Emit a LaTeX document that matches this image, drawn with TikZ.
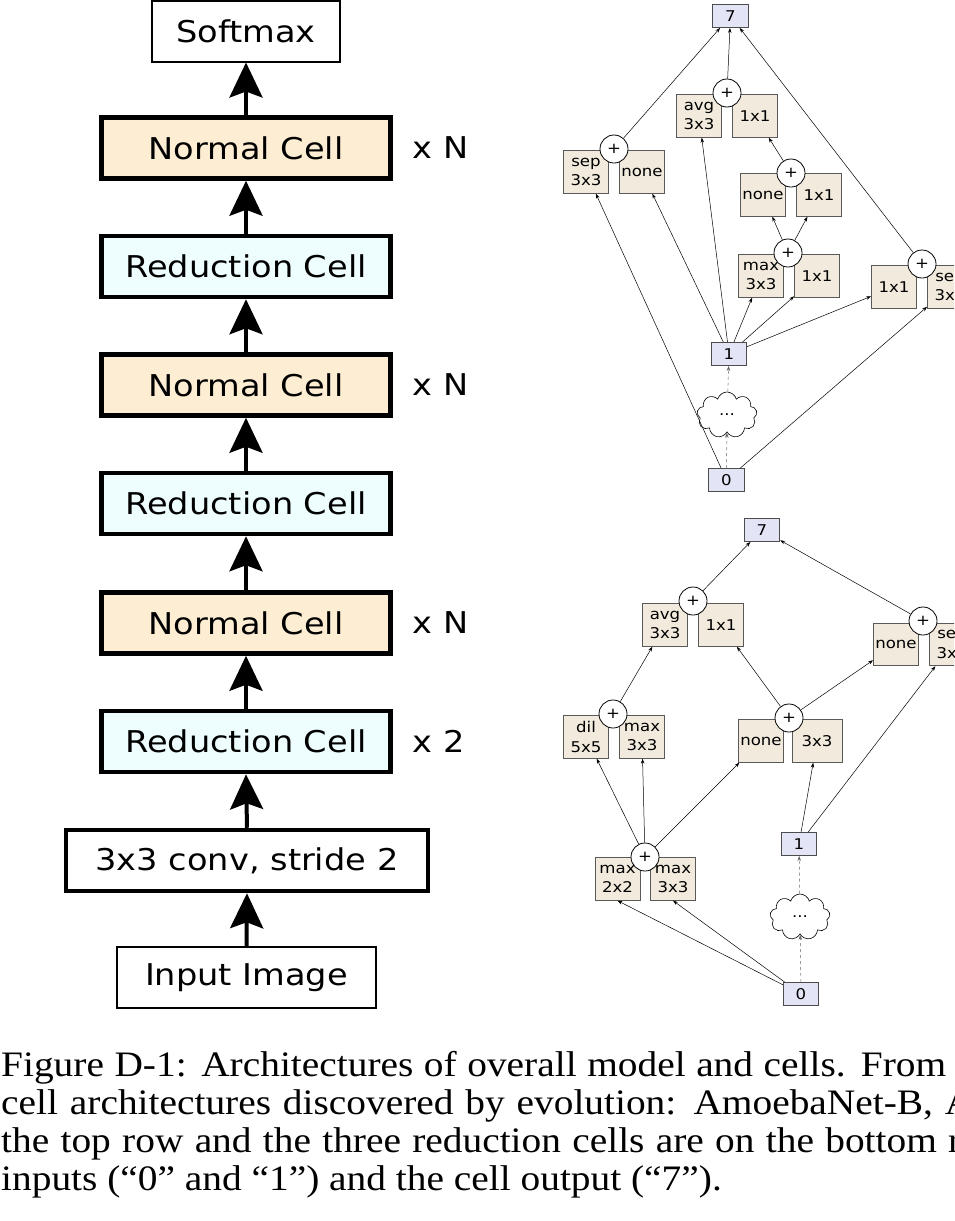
\documentclass[tikz,border=0pt]{standalone}
\usepackage{fontspec}
\setsansfont{DejaVu Sans}[FakeStretch=1.12]
\setmainfont{Liberation Serif}[FakeStretch=1.1]
\usetikzlibrary{arrows.meta,shapes.symbols}

\definecolor{normalfill}{HTML}{FDEDD3}
\definecolor{redfill}{HTML}{EEFDFD}
\definecolor{opfill}{HTML}{F2EBDD}
\definecolor{iofill}{HTML}{E4E4F7}

\newcommand{\cellfont}{\sffamily\fontsize{30}{36}\selectfont}
\newcommand{\opfont}{\sffamily\fontsize{14.8}{19.5}\selectfont}
\newcommand{\capfont}{\rmfamily\fontsize{35.8}{38.3}\selectfont}

\begin{document}
\begin{tikzpicture}[
	x=1pt, y=-1pt,
	cell/.style={
		draw, line width=4.5pt,
		minimum width=289pt, minimum height=61pt,
		font=\cellfont
	},
	normal/.style={cell, fill=normalfill},
	reduct/.style={cell, fill=redfill},
	plain/.style={draw, line width=2pt, minimum height=61pt, font=\cellfont},
	rep/.style={anchor=west, font=\cellfont},
	big/.style={-{Stealth[length=35pt,width=33pt,inset=6pt]}, line width=4pt},
	op/.style={
		draw=black!65, fill=opfill, line width=0.8pt,
		minimum width=45pt, minimum height=42.5pt,
		inner sep=0.5pt, align=center, font=\opfont
	},
	io/.style={
		draw=black!70, fill=iofill, line width=0.8pt,
		minimum width=35.5pt, minimum height=23pt,
		inner sep=0pt, font=\opfont
	},
	add/.style={circle, draw, fill=white, line width=0.8pt, minimum size=28pt, inner sep=0pt, font=\opfont},
	blob/.style={
		cloud, cloud puffs=9, draw, fill=white, line width=0.6pt,
		minimum width=60pt, minimum height=46pt, inner sep=0pt, font=\opfont
	},
	edge/.style={-{Stealth[length=5pt,width=3.5pt]}, line width=0.5pt},
	hidden/.style={edge, dashed, draw=black!60},
	capline/.style={anchor=base west, inner sep=0pt, font=\capfont}
]

\useasboundingbox (0,0) rectangle (954,1221);
\clip (0,0) rectangle (954,1221);

% Overall model (left column), centres at x=246
\node[plain, minimum width=188pt] (softmax) at (246,31)    {Softmax};
\node[normal] (norm3) at (246,148)   {Normal Cell};
\node[reduct] (red3)  at (246,266.5) {Reduction Cell};
\node[normal] (norm2) at (246,385)   {Normal Cell};
\node[reduct] (red2)  at (246,503.5) {Reduction Cell};
\node[normal] (norm1) at (246,623)   {Normal Cell};
\node[reduct] (red1)  at (246,741.5) {Reduction Cell};
\node[cell, fill=white, minimum width=362pt] (conv) at (247,860.5) {3x3 conv, stride 2};
\node[plain, minimum width=259pt] (input) at (246.5,977.5) {Input Image};

% repeat counts
\node[rep] (rep3) at (409,148)   {x N};
\node[rep] (rep2) at (409,385)   {x N};
\node[rep] (rep1) at (409,623)   {x N};
\node[rep] (rep0) at (409,741.5) {x 2};

\draw[big] (input.north) -- (conv.south);
\draw[big] (conv.north)  -- (red1.south);
\draw[big] (red1.north)  -- (norm1.south);
\draw[big] (norm1.north) -- (red2.south);
\draw[big] (red2.north)  -- (norm2.south);
\draw[big] (norm2.north) -- (red3.south);
\draw[big] (red3.north)  -- (norm3.south);
\draw[big] (norm3.north) -- (softmax.south);

% Normal cell (top right)
\node[io] (n7) at (730.5,16) {7};
\node[op] (navg)  at (699,116)   {avg\\3x3};
\node[op] (nc1)   at (755,116)   {1x1};
\node[op] (nsep)  at (586,172)   {sep\\3x3};
\node[op] (nnone) at (642,172)   {none};
\node[op] (nnone2) at (763,195)  {none};
\node[op] (nc2)   at (819,195)   {1x1};
\node[op] (nmax)  at (761,276)   {max\\3x3};
\node[op] (nc3)   at (817,276)   {1x1};
\node[op] (nc4)   at (894,287)   {1x1};
\node[op] (nsep2) at (950,287)   {sep\\3x3};
\node[add] (nadd1) at (727,93)   {+};
\node[add] (nadd2) at (614,149)  {+};
\node[add] (nadd3) at (791,173)  {+};
\node[add] (nadd4) at (788,253)  {+};
\node[add] (nadd5) at (922,264)  {+};
\node[io] (n1) at (729,354) {1};
\node[blob] (ncloud) at (727,415) {...};
\node[io] (n0) at (726.5,480) {0};

\draw[edge] (nadd2) -- (n7);
\draw[edge] (nadd1) -- (n7);
\draw[edge] (nadd5) -- (n7);
\draw[edge] (nadd3) -- (nc1);
\draw[edge] (nadd4) -- (nnone2);
\draw[edge] (nadd4) -- (nc2);
\draw[edge] (n0) -- (nsep);
\draw[edge] (n1) -- (nnone);
\draw[edge] (n1) -- (navg);
\draw[edge] (n1) -- (nmax);
\draw[edge] (n1) -- (nc3);
\draw[edge] (n1) -- (nc4);
\draw[edge] (n0) -- (nsep2);
\draw[hidden] (n0) -- (ncloud);
\draw[hidden] (ncloud) -- (n1);

% Reduction cell (bottom right)
\node[io] (r7) at (762,530) {7};
\node[op] (ravg)   at (665,625)   {avg\\3x3};
\node[op] (rc1)    at (721,625)   {1x1};
\node[op] (rnone)  at (896,644.5) {none};
\node[op] (rsep)   at (952,644.5) {sep\\3x3};
\node[op] (rdil)   at (586,737)   {dil\\5x5};
\node[op] (rmax)   at (642,737)   {max\\3x3};
\node[op] (rnone2) at (761,741)   {none};
\node[op, minimum width=50pt] (rconv) at (817,741) {3x3};
\node[op] (rmax2)  at (617.5,879) {max\\2x2};
\node[op] (rmax3)  at (673,879)   {max\\3x3};
\node[add] (radd1) at (693,601) {+};
\node[add] (radd2) at (923,621) {+};
\node[add] (radd3) at (613,714) {+};
\node[add] (radd4) at (789,718) {+};
\node[add] (radd5) at (645,857) {+};
\node[io] (r1) at (799,844) {1};
\node[blob] (rcloud) at (800,917) {...};
\node[io] (r0) at (801,994) {0};

\draw[edge] (radd1) -- (r7);
\draw[edge] (radd2) -- (r7);
\draw[edge] (radd3) -- (ravg);
\draw[edge] (radd4) -- (rc1);
\draw[edge] (radd4) -- (rnone);
\draw[edge] (radd5) -- (rdil);
\draw[edge] (radd5) -- (rmax);
\draw[edge] (radd5) -- (rnone2);
\draw[edge] (r1) -- (rconv);
\draw[edge] (r1) -- (rsep);
\draw[edge] (r0) -- (rmax2.south);
\draw[edge] (r0) -- (rmax3.south);
\draw[hidden] (r0) -- (rcloud);
\draw[hidden] (rcloud) -- (r1);

% Caption (justified lines, cut at the right edge)
\node[capline] (cap1) at (1,1076)   {\makebox[945pt][s]{Figure D-1: Architectures of overall model and cells. From}};
\node[capline] (cap2) at (1,1114.3) {\makebox[972pt][s]{cell architectures discovered by evolution: AmoebaNet-B, A}};
\node[capline] (cap3) at (1,1152.6) {\makebox[960pt][s]{the top row and the three reduction cells are on the bottom r}};
\node[capline] (cap4) at (1,1190.9) {inputs (“0” and “1”) and the cell output (“7”).};

\end{tikzpicture}
\end{document}
